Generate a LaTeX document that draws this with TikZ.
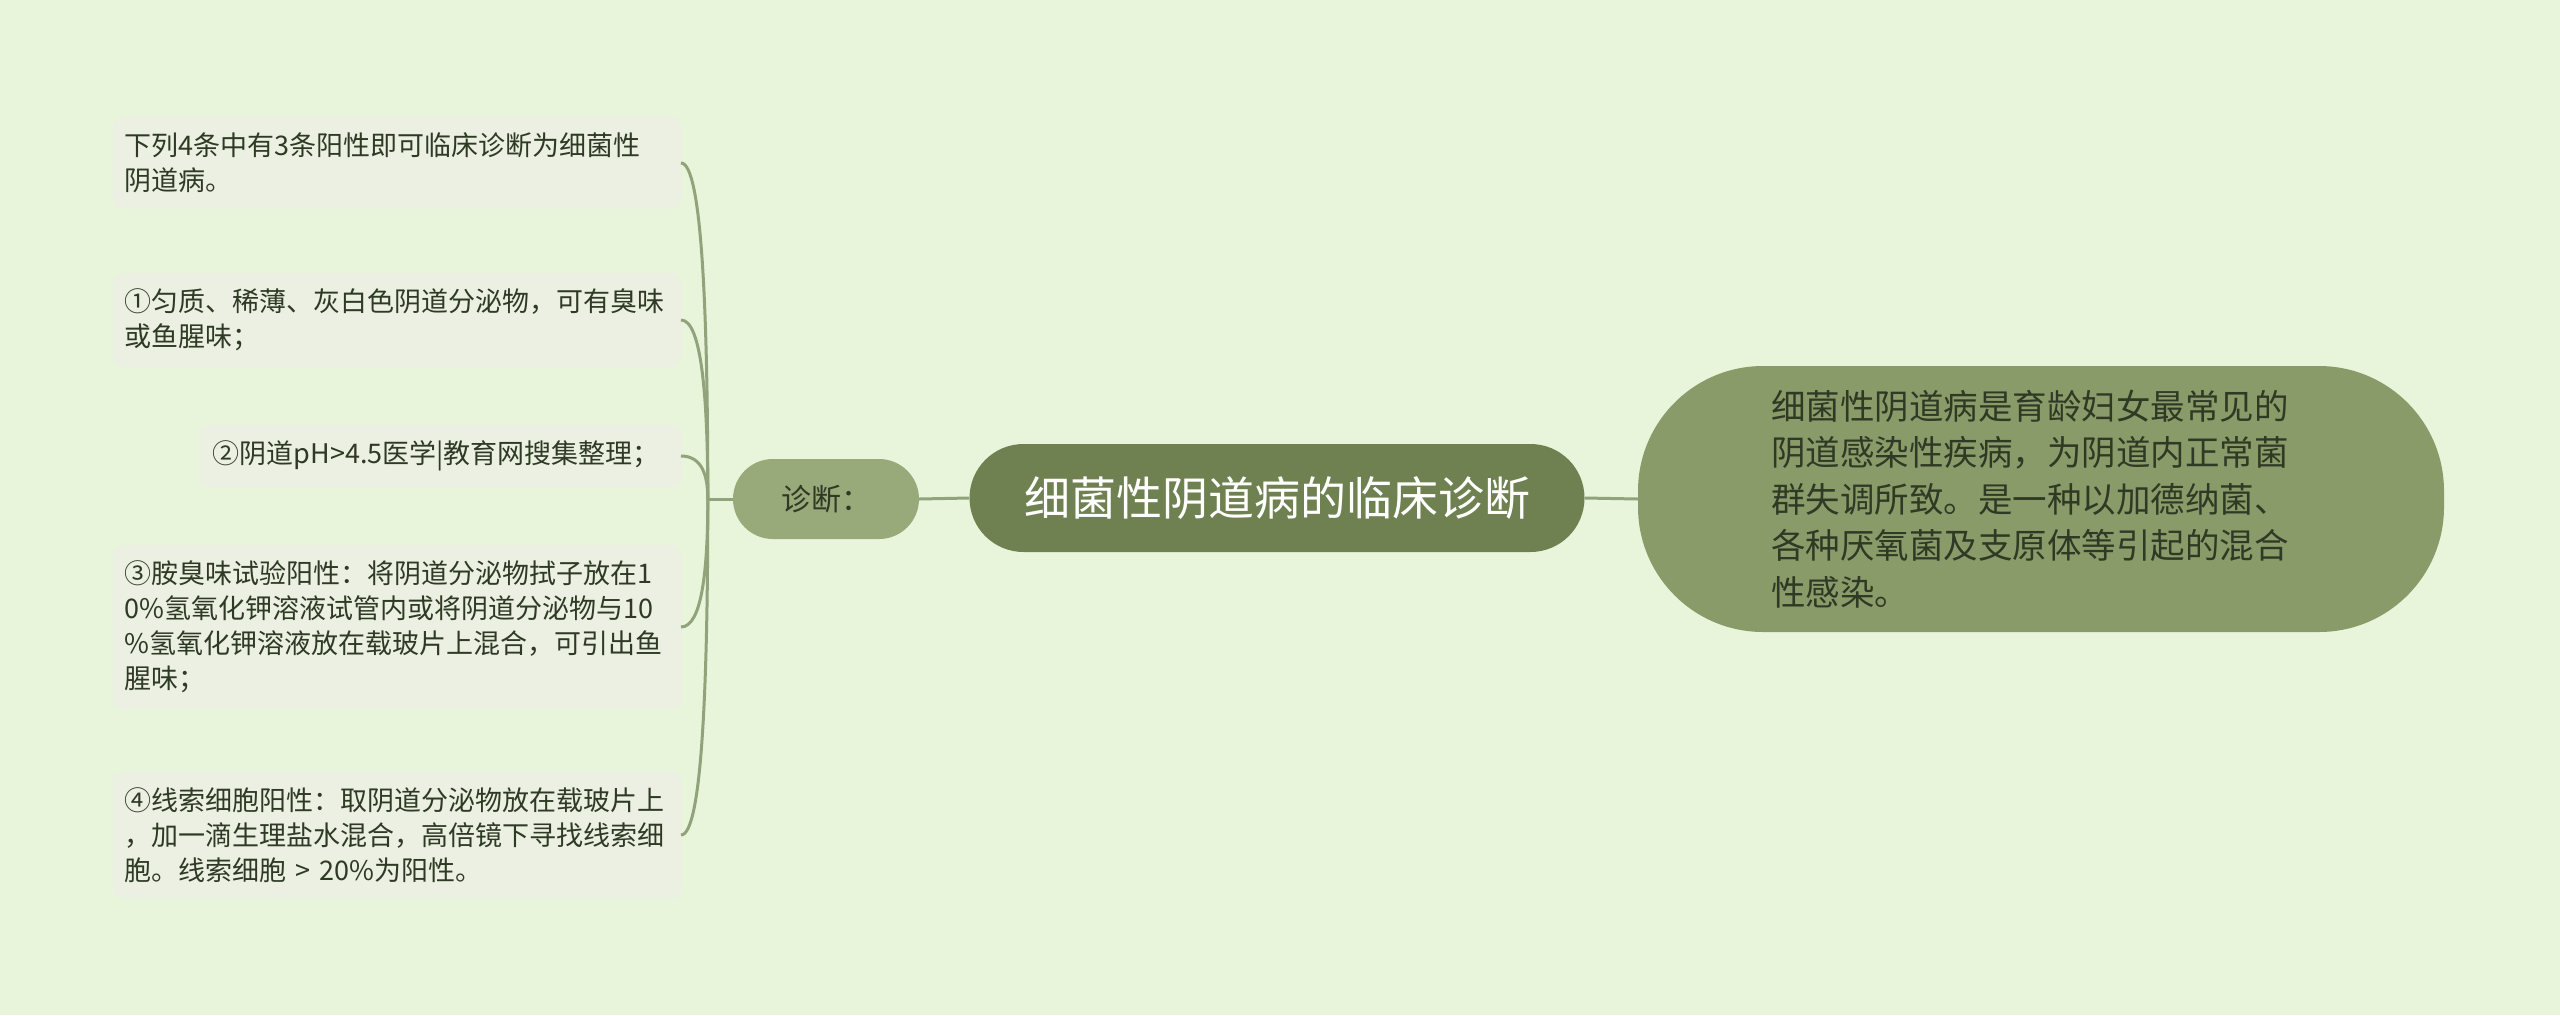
\documentclass[tikz,border=0pt]{standalone}
\usepackage{fontspec}
\usetikzlibrary{calc}
\setmainfont{Noto Sans CJK SC}
\definecolor{bgc}{HTML}{E8F5DB}
\definecolor{leaffill}{HTML}{EBF0E2}
\definecolor{rootfill}{HTML}{6F8151}
\definecolor{diagfill}{HTML}{98A97A}
\definecolor{rightfill}{HTML}{8A9B6A}
\definecolor{linec}{HTML}{91A37B}
\definecolor{textdark}{HTML}{2F3A24}
\tikzset{
  leafbox/.style={fill=leaffill, rounded corners=10pt, inner xsep=12pt, inner ysep=16pt,
    align=left, text=textdark, font=\fontsize{27}{35}\selectfont},
  wideleaf/.style={leafbox, text width=545pt},
  conn/.style={draw=linec, line width=3pt},
}
\begin{document}
\begin{tikzpicture}[x=1pt,y=-1pt]
\fill[bgc] (0,0) rectangle (2560,1015);
\useasboundingbox (0,0) rectangle (2560,1015);

\node[fill=rootfill, rounded corners=54pt, minimum width=615pt, minimum height=108pt,
  text=white, font=\fontsize{46}{50}\selectfont, inner sep=0pt] (root) at (1277,498) {细菌性阴道病的临床诊断};

\node[fill=diagfill, rounded corners=40pt, minimum width=186pt, minimum height=80pt,
  text=textdark, font=\fontsize{30}{34}\selectfont, inner sep=0pt] (diag) at (826,499) {诊断：};

\node[fill=rightfill, rounded corners=125pt, minimum width=806pt, minimum height=266pt,
  text=textdark, font=\fontsize{34.5}{46.5}\selectfont, align=left, text width=540pt, inner sep=0pt] (desc) at (2041,499)
  {细菌性阴道病是育龄妇女最常见的\\阴道感染性疾病，为阴道内正常菌\\群失调所致。是一种以加德纳菌、\\各种厌氧菌及支原体等引起的混合\\性感染。};

\node[wideleaf, anchor=east] (b1) at (682,163) {下列4条中有3条阳性即可临床诊断为细菌性\\阴道病。};
\node[wideleaf, anchor=east] (b2) at (682,320) {①匀质、稀薄、灰白色阴道分泌物，可有臭味\\或鱼腥味；};
\node[leafbox, anchor=east, text width=455pt, inner xsep=14pt] (b3) at (682,456) {②阴道pH>4.5医学|教育网搜集整理；};
\node[wideleaf, anchor=east] (b4) at (682,627) {③胺臭味试验阳性：将阴道分泌物拭子放在1\\0\%氢氧化钾溶液试管内或将阴道分泌物与10\\\%氢氧化钾溶液放在载玻片上混合，可引出鱼\\腥味；};
\node[wideleaf, anchor=east] (b5) at (682,835) {④线索细胞阳性：取阴道分泌物放在载玻片上\\，加一滴生理盐水混合，高倍镜下寻找线索细\\胞。线索细胞 > 20\%为阳性。};

\draw[conn] (diag.east) -- (root.west);
\draw[conn] (root.east) -- (desc.west);

\coordinate (hub) at ([xshift=-25pt]diag.west);
\draw[conn] (diag.west) -- (hub);
\foreach \b in {b1,b2,b3,b4,b5}{
  \draw[conn] (hub) .. controls ($(hub)!0.55!(hub |- \b.east)$) and ([xshift=20pt]\b.east) .. ([xshift=-1pt]\b.east);
}
\end{tikzpicture}
\end{document}
